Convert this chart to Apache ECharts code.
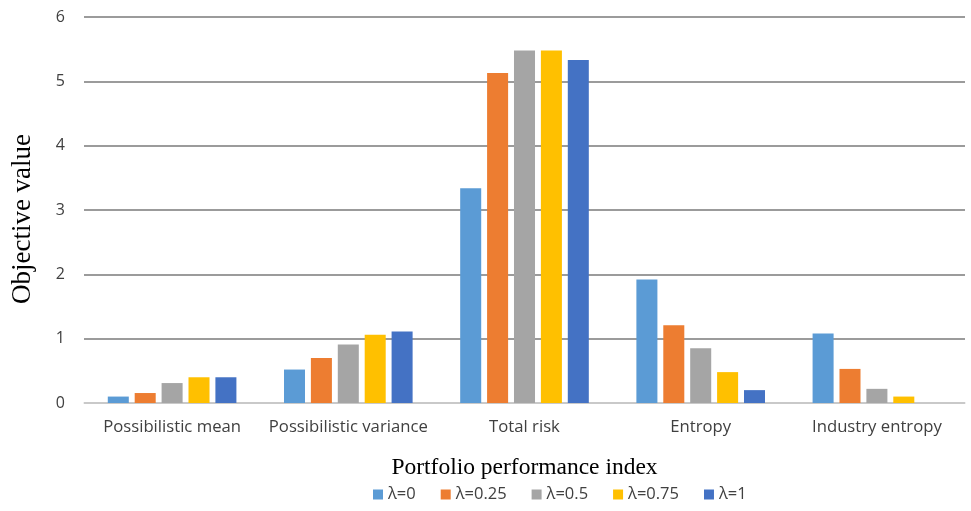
<!DOCTYPE html>
<html>
<head>
<meta charset="utf-8">
<script src="https://cdn.jsdelivr.net/npm/echarts@6/dist/echarts.min.js"></script>
<style>
  html, body { margin: 0; padding: 0; background: #fff; }
  #chart { width: 971px; height: 511px; }
</style>
</head>
<body>
<div id="chart"></div>
<script>
// Performance indices on the category axis
const categories = ['Possibilistic mean', 'Possibilistic variance', 'Total risk', 'Entropy', 'Industry entropy'];

// Objective values for each lambda setting
const lambda0    = [0.10, 0.52, 3.34, 1.92, 1.08];
const lambda025  = [0.155, 0.70, 5.13, 1.21, 0.53];
const lambda05   = [0.31, 0.91, 5.48, 0.85, 0.22];
const lambda075  = [0.40, 1.06, 5.48, 0.48, 0.10];
const lambda1    = [0.40, 1.11, 5.33, 0.20, 0.00];

const seriesNames = ['λ=0', 'λ=0.25', 'λ=0.5', 'λ=0.75', 'λ=1'];
const seriesValues = [lambda0, lambda025, lambda05, lambda075, lambda1];
const colors = ['#5B9BD5', '#ED7D31', '#A5A5A5', '#FFC000', '#4472C4'];

const yTicks = [0, 1, 2, 3, 4, 5, 6];

const chart = echarts.init(document.getElementById('chart'));

chart.setOption({
  animation: false,
  color: colors,
  grid: { left: 84, right: 6, top: 17, bottom: 108, outerBoundsMode: 'none', containLabel: false },
  legend: {
    data: seriesNames,
    bottom: 3,
    left: 368,
    itemWidth: 10,
    itemHeight: 10,
    itemGap: 25,
    icon: 'rect',
    textStyle: { fontFamily: 'Open Sans', fontSize: 16.5, color: '#404040' }
  },
  xAxis: {
    type: 'category',
    data: categories,
    name: 'Portfolio performance index',
    nameLocation: 'middle',
    nameGap: 53,
    nameTextStyle: { fontFamily: 'Liberation Serif', fontSize: 23.5, color: '#000' },
    axisLine: { lineStyle: { color: '#d9d9d9', width: 1.5 } },
    axisTick: { show: false },
    axisLabel: { interval: 0, fontFamily: 'Open Sans', fontSize: 16.7, color: '#404040', margin: 16 }
  },
  yAxis: {
    type: 'value',
    min: yTicks[0],
    max: yTicks[yTicks.length - 1],
    interval: 1,
    name: 'Objective value',
    nameLocation: 'middle',
    nameGap: 48,
    nameTextStyle: { fontFamily: 'Liberation Serif', fontSize: 27, color: '#000', padding: [0, 18, 0, 0] },
    axisLine: { show: false },
    axisTick: { show: false },
    axisLabel: { fontFamily: 'Open Sans', fontSize: 16, color: '#404040', margin: 19 },
    splitLine: { lineStyle: { color: '#7a7a7a', width: 1.5 } }
  },
  series: seriesNames.map((name, i) => ({
    name: name,
    type: 'bar',
    data: seriesValues[i],
    barGap: '28%',
    barCategoryGap: '27%',
    itemStyle: { color: colors[i] }
  }))
});
</script>
</body>
</html>
